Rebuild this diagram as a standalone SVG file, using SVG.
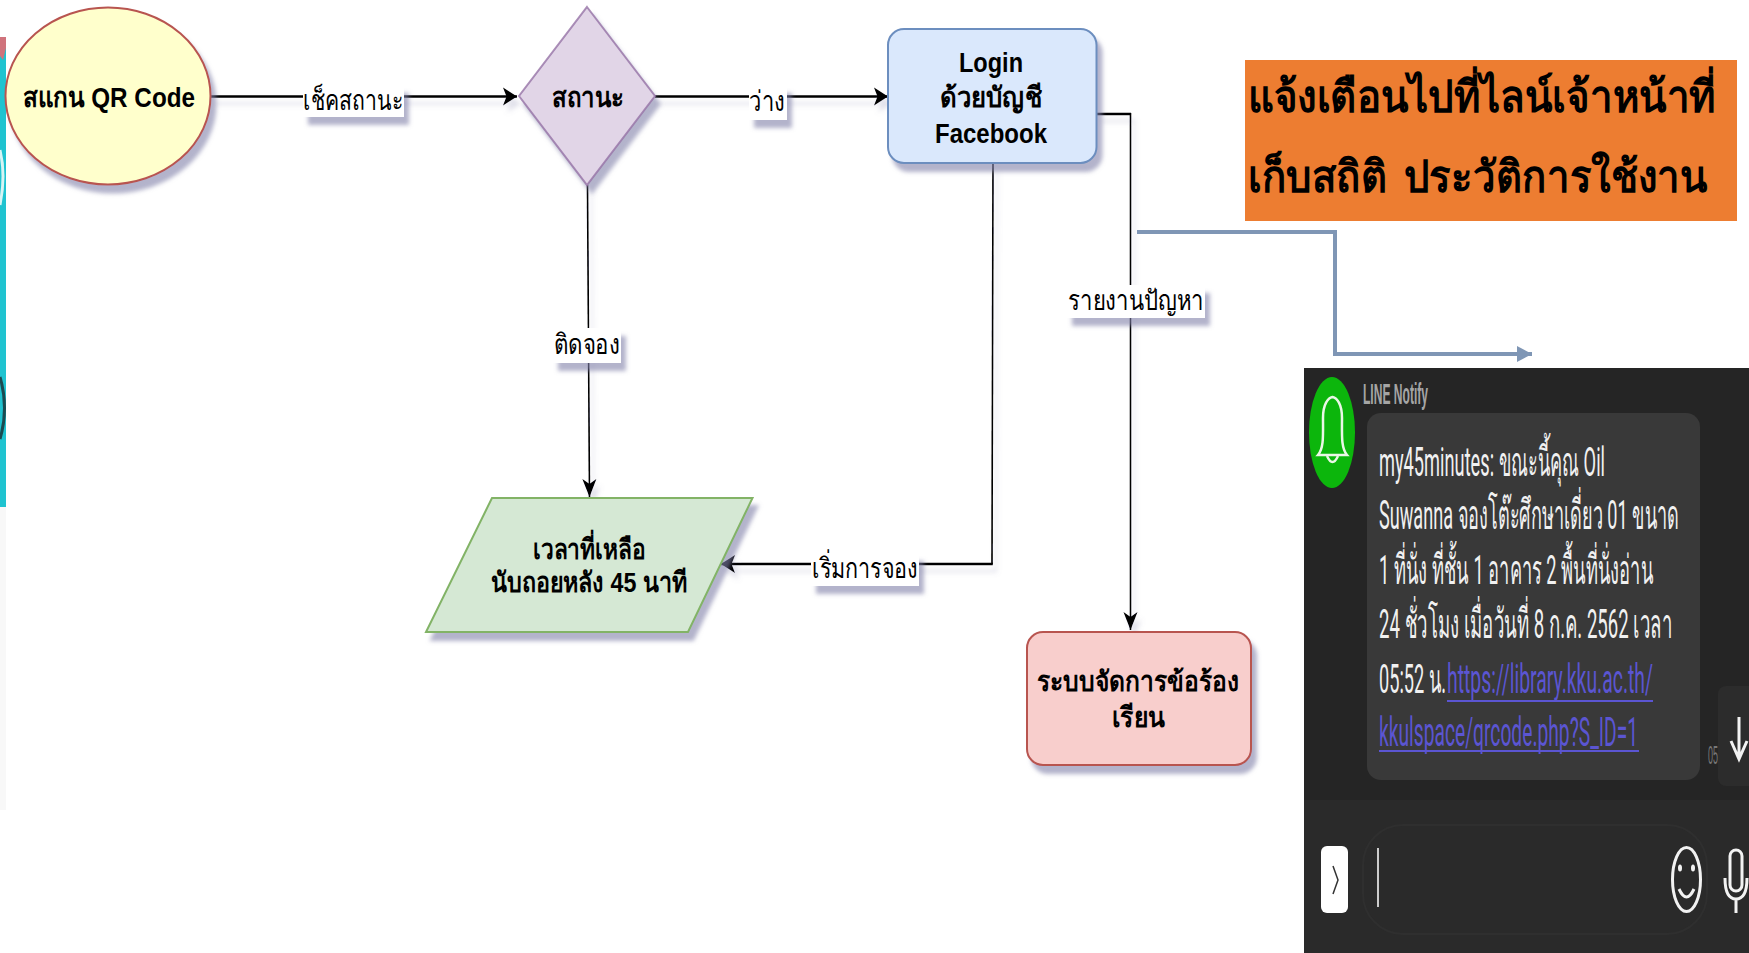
<svg xmlns="http://www.w3.org/2000/svg" width="1749" height="953" viewBox="0 0 1749 953">
<defs>
<style>
text{font-family:"Liberation Sans","Noto Sans",sans-serif;fill:#000}
.n{font-weight:700;font-size:28px;text-anchor:middle}
.l{font-size:28px;text-anchor:middle}
.h{fill:none;stroke:#000;stroke-width:2.6}
.v{fill:none;stroke:#000;stroke-width:1.600}
.box{fill:#fff}
.o{font-weight:700;font-size:44px}
.m{font-family:Roboto,"Noto Sans",sans-serif;font-size:41px;fill:#f1f1f1}
.lk{fill:#5b55d2}
.ic{fill:none;stroke:#f2f2f2;stroke-width:3}
</style>
<filter id="s" x="-10%" y="-10%" width="125%" height="130%"><feDropShadow dx="5" dy="8" stdDeviation="2" flood-color="#8080a8" flood-opacity=".6"/></filter>
<filter id="sl" x="-10%" y="-10%" width="125%" height="130%"><feDropShadow dx="4" dy="7" stdDeviation="2.5" flood-color="#8080a8" flood-opacity=".25"/></filter>
<marker id="ah" markerUnits="userSpaceOnUse" markerWidth="16" markerHeight="20" refX="14" refY="9.500" orient="auto"><path d="M0 0.500L14 9.500L0 18.500L3.500 9.500Z" fill="#000"/></marker>
<marker id="av" markerUnits="userSpaceOnUse" markerWidth="20" markerHeight="16" refX="18" refY="7.500" orient="auto"><path d="M0 0.500L18 7.500L0 14.500L5 7.500Z" fill="#000"/></marker>
<marker id="b" markerUnits="userSpaceOnUse" markerWidth="18" markerHeight="18" refX="15" refY="8" orient="auto"><path d="M0 0L15 8L0 16Z" fill="#7f96b5"/></marker>
</defs>
<rect width="1749" height="953" fill="#fff"/>
<g id="left-strip"><rect x="0" y="507" width="6" height="303" fill="#f8f8f8"/><rect x="0" y="37" width="6" height="470" fill="#1fc3d0"/><path d="M0 37H6V48L3 60L0 56Z" fill="#d0737c"/><path d="M0 150Q6 175 0 205" fill="none" stroke="#d8f4f4" stroke-width="3"/><path d="M0 377Q9 408 0 439" fill="none" stroke="#1b4a50" stroke-width="3"/></g>
<g id="connectors">
<g filter="url(#sl)">
<path class="h" d="M211 96.500H517" marker-end="url(#ah)"/>
<path class="h" d="M655 96.500H888" marker-end="url(#ah)"/>
<path class="v" d="M587.500 185L589.500 497" marker-end="url(#av)"/>
<path class="v" d="M993 163L992 564"/>
<path class="h" d="M992.800 564H721" marker-end="url(#ah)"/>
<path class="h" d="M1096.500 114H1131"/>
<path class="v" d="M1130.500 113V630" marker-end="url(#av)"/>
</g>
<g filter="url(#s)"><rect class="box" x="303" y="85" width="101" height="32"/><rect class="box" x="749" y="85" width="38" height="35"/><rect class="box" x="553" y="328" width="68" height="35"/><rect class="box" x="811" y="553" width="108" height="33"/><rect class="box" x="1067" y="285" width="138" height="33"/></g>
<text class="l" x="353" y="110" textLength="100" lengthAdjust="spacingAndGlyphs">เช็คสถานะ</text>
<text class="l" x="767" y="111" textLength="36" lengthAdjust="spacingAndGlyphs">ว่าง</text>
<text class="l" x="587" y="354" textLength="66" lengthAdjust="spacingAndGlyphs">ติดจอง</text>
<text class="l" x="865" y="578" textLength="106" lengthAdjust="spacingAndGlyphs">เริ่มการจอง</text>
<text class="l" x="1136" y="310" textLength="136" lengthAdjust="spacingAndGlyphs">รายงานปัญหา</text>
<path d="M1137 232H1335V354H1532" fill="none" stroke="#7f96b5" stroke-width="4" marker-end="url(#b)"/>
</g>
<g id="scan"><ellipse cx="108" cy="96" rx="102.500" ry="88.500" fill="#ffffcc" stroke="#b85450" stroke-width="2" filter="url(#s)"/><text class="n" x="109" y="107" textLength="172" lengthAdjust="spacingAndGlyphs">สแกน QR Code</text></g>
<g id="status"><path d="M587 7L655 96L587 185L519 96Z" fill="#e1d5e7" stroke="#9673a6" stroke-opacity=".8" stroke-width="2" filter="url(#s)"/><text class="n" x="588" y="107" textLength="72" lengthAdjust="spacingAndGlyphs">สถานะ</text></g>
<g id="login"><rect x="888" y="29" width="208.500" height="134" rx="16" fill="#dae8fc" stroke="#6c8ebf" stroke-width="2" filter="url(#s)"/><text class="n" x="991" y="72" textLength="64" lengthAdjust="spacingAndGlyphs">Login</text><text class="n" x="991" y="107" textLength="102" lengthAdjust="spacingAndGlyphs">ด้วยบัญชี</text><text class="n" x="991" y="143" textLength="112" lengthAdjust="spacingAndGlyphs">Facebook</text></g>
<g id="time"><path d="M492 498H752.500L688 632H426Z" fill="#d5e8d4" stroke="#82b366" stroke-width="2" filter="url(#s)"/><text class="n" x="589" y="559" textLength="113" lengthAdjust="spacingAndGlyphs">เวลาที่เหลือ</text><text class="n" x="589" y="592" textLength="196" lengthAdjust="spacingAndGlyphs">นับถอยหลัง 45 นาที</text></g>
<g id="complaint"><rect x="1027" y="632" width="224" height="133" rx="16" fill="#f8cecc" stroke="#b85450" stroke-width="2" filter="url(#s)"/><text class="n" x="1138" y="691" textLength="202" lengthAdjust="spacingAndGlyphs">ระบบจัดการข้อร้อง</text><text class="n" x="1138" y="727" textLength="53" lengthAdjust="spacingAndGlyphs">เรียน</text></g>
<g id="note"><rect x="1245" y="60" width="492" height="161" fill="#ed7d31"/><text class="o" x="1248" y="112" textLength="468" lengthAdjust="spacingAndGlyphs">แจ้งเตือนไปที่ไลน์เจ้าหน้าที่</text><text class="o" x="1248" y="192" textLength="459" lengthAdjust="spacingAndGlyphs" word-spacing="6">เก็บสถิติ ประวัติการใช้งาน</text></g>
<g id="line-notify">
<rect x="1304" y="368" width="445" height="585" fill="#252525"/>
<rect x="1304" y="800" width="445" height="153" fill="#2a2a2a"/>
<ellipse cx="1332" cy="432.500" rx="23" ry="55.500" fill="#0cb60c"/>
<path d="M1318 455C1324 448 1323 435 1323 418C1323 404 1328 398 1332.500 397C1337 398 1342 404 1342 418C1342 435 1341 448 1347 455Z" fill="none" stroke="#eaf7e6" stroke-width="2.500"/>
<path d="M1327 456Q1332.500 468 1338 456" fill="none" stroke="#eaf7e6" stroke-width="2.500"/>
<text x="1363" y="404" font-size="29" font-weight="700" style="fill:#a5a5a5" textLength="65" lengthAdjust="spacingAndGlyphs">LINE Notify</text>
<rect x="1367" y="413" width="333" height="367" rx="14" fill="#393939"/>
<text class="m" x="1379" y="476" textLength="226" lengthAdjust="spacingAndGlyphs">my45minutes: ขณะนี้คุณ Oil</text>
<text class="m" x="1379" y="529" textLength="300" lengthAdjust="spacingAndGlyphs">Suwanna จองโต๊ะศึกษาเดี่ยว 01 ขนาด</text>
<text class="m" x="1379" y="584" textLength="274" lengthAdjust="spacingAndGlyphs">1 ที่นั่ง  ที่ชั้น 1 อาคาร 2 พื้นที่นั่งอ่าน</text>
<text class="m" x="1379" y="638" textLength="293" lengthAdjust="spacingAndGlyphs">24 ชั่วโมง   เมื่อวันที่ 8 ก.ค. 2562 เวลา</text>
<text class="m" x="1379" y="693" textLength="67" lengthAdjust="spacingAndGlyphs">05:52 น.</text>
<text class="m lk" x="1447" y="693" textLength="206" lengthAdjust="spacingAndGlyphs">https://library.kku.ac.th/</text>
<text class="m lk" x="1379" y="746" textLength="259" lengthAdjust="spacingAndGlyphs">kkulspace/qrcode.php?S_ID=1</text>
<path d="M1447 701H1653M1379 751H1639" stroke="#5b55d2" stroke-width="2"/>
<text x="1708" y="764" font-family="Roboto" font-size="26" style="fill:#777" textLength="10" lengthAdjust="spacingAndGlyphs">05</text>
<rect x="1718" y="686" width="40" height="100" rx="8" fill="#2c2c2c"/>
<path class="ic" d="M1739 717V759M1731 741L1739 759L1747 741"/>
<rect x="1363" y="825" width="344" height="109" rx="40" fill="#2a2a2a" stroke="#2f2f2f" stroke-width="2"/>
<rect x="1321" y="846" width="27" height="67" rx="6" fill="#fff"/>
<path d="M1333 866L1338 880L1333 894" fill="none" stroke="#333" stroke-width="1.500"/>
<path d="M1378 848V907" stroke="#ccc" stroke-width="2"/>
<ellipse class="ic" cx="1686.500" cy="879.500" rx="14" ry="32"/>
<path class="ic" d="M1679 889Q1686.500 905 1694 889"/>
<ellipse cx="1680" cy="868" rx="2" ry="3.500" fill="#f2f2f2"/><ellipse cx="1693" cy="868" rx="2" ry="3.500" fill="#f2f2f2"/>
<rect class="ic" x="1730" y="850" width="12" height="41" rx="6"/>
<path class="ic" d="M1725 878C1725 896 1731 899 1736 899C1741 899 1747 896 1747 878M1736 899V913"/>
</g>
</svg>
